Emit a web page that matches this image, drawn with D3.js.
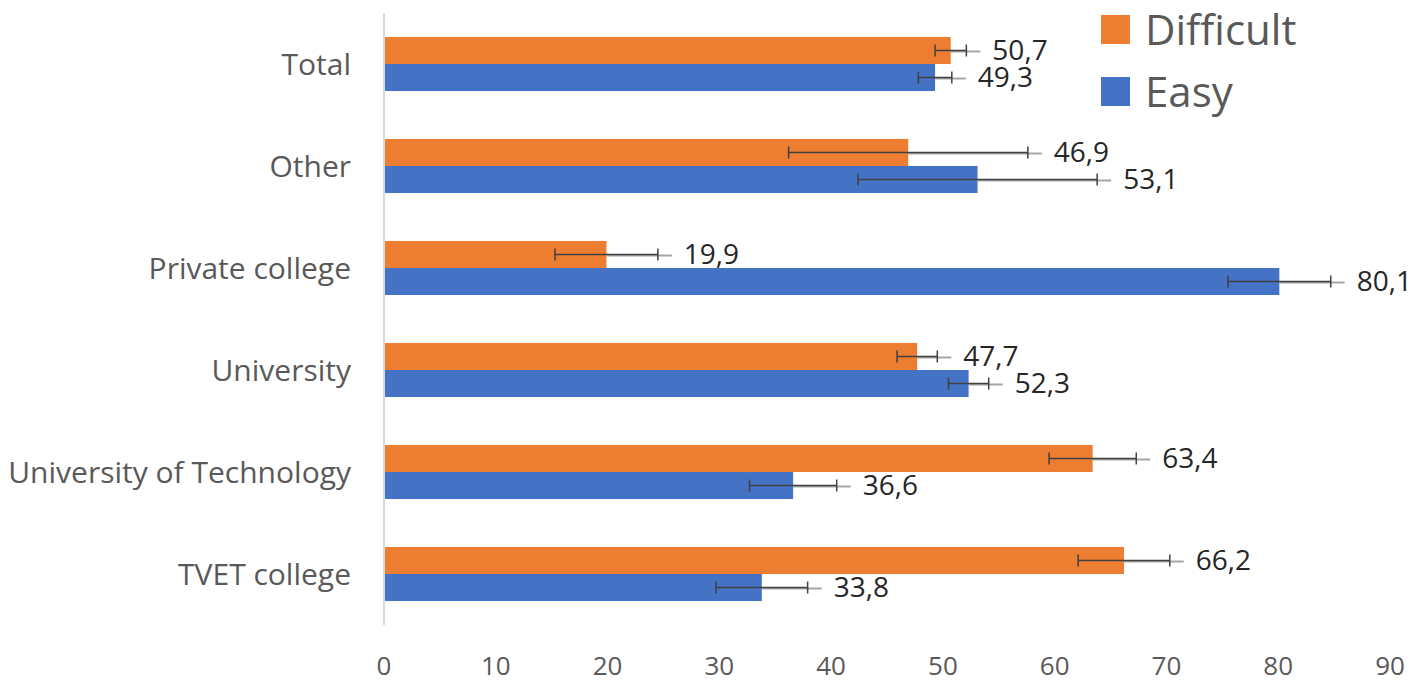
<!DOCTYPE html>
<html lang="en">
<head>
    <meta charset="UTF-8">
    <title>Difficult vs Easy by institution</title>
    <script src="https://d3js.org/d3.v7.min.js"></script>
    <style>
        body { margin: 0; background: #fff; }
        svg { display: block; font-family: "Open Sans", sans-serif; }
        .cat { font-size: 30px; fill: #595959; }
        .tick-label { font-size: 26px; fill: #595959; }
        .val { font-size: 28px; fill: #262626; }
        .legend text { font-size: 42px; fill: #595959; }
    </style>
</head>
<body>
<svg width="1417" height="690"></svg>
<script>
    // categories top to bottom
    const categories = ['Total', 'Other', 'Private college', 'University', 'University of Technology', 'TVET college'];
    const series = ['Difficult', 'Easy'];
    const difficult = [50.7, 46.9, 19.9, 47.7, 63.4, 66.2];
    const easy = [49.3, 53.1, 80.1, 52.3, 36.6, 33.8];
    // error bar half-widths
    const difficultErr = [1.4, 10.7, 4.6, 1.8, 3.9, 4.1];
    const easyErr = [1.5, 10.7, 4.6, 1.8, 3.9, 4.1];
    const xTicks = [0, 10, 20, 30, 40, 50, 60, 70, 80, 90];
    const colors = { Difficult: '#ED7D31', Easy: '#4472C4' };

    const svg = d3.select('svg');

    const x = d3.scaleLinear().domain([0, 90]).range([384, 1390]);
    const y = d3.scaleBand().domain(categories).range([13, 625])
        .paddingInner(0.47).paddingOuter(0.235);
    const ySub = d3.scaleBand().domain(series).range([0, y.bandwidth()]);

    const rows = [];
    categories.forEach((c, i) => {
        rows.push({ cat: c, s: 'Difficult', v: difficult[i], e: difficultErr[i] });
        rows.push({ cat: c, s: 'Easy', v: easy[i], e: easyErr[i] });
    });

    // axis line
    svg.append('line')
        .attr('x1', x(0)).attr('x2', x(0))
        .attr('y1', 13).attr('y2', 625)
        .attr('stroke', '#d9d9d9').attr('stroke-width', 2);

    // bars
    svg.append('g').selectAll('rect')
        .data(rows)
        .join('rect')
        .attr('x', x(0) + 1)
        .attr('y', d => y(d.cat) + ySub(d.s))
        .attr('width', d => x(d.v) - x(0) - 1)
        .attr('height', ySub.bandwidth())
        .attr('fill', d => colors[d.s]);

    // error bars
    const eb = svg.append('g').selectAll('g')
        .data(rows)
        .join('g')
        .attr('transform', d => `translate(0,${y(d.cat) + ySub(d.s) + ySub.bandwidth() / 2})`);

    eb.append('line')
        .attr('x1', d => x(d.v)).attr('x2', d => x(d.v + d.e) + 14)
        .attr('y1', 1).attr('y2', 1)
        .attr('stroke', '#a6a6a6').attr('stroke-width', 2);

    eb.append('line')
        .attr('x1', d => x(d.v - d.e)).attr('x2', d => x(d.v + d.e))
        .attr('stroke', '#404040').attr('stroke-width', 1.5);

    eb.append('line')
        .attr('x1', d => x(d.v - d.e)).attr('x2', d => x(d.v - d.e))
        .attr('y1', -6).attr('y2', 6)
        .attr('stroke', '#404040').attr('stroke-width', 1.5);

    eb.append('line')
        .attr('x1', d => x(d.v + d.e)).attr('x2', d => x(d.v + d.e))
        .attr('y1', -6).attr('y2', 6)
        .attr('stroke', '#404040').attr('stroke-width', 1.5);

    // value labels
    eb.append('text')
        .attr('class', 'val')
        .attr('x', d => x(d.v + d.e) + 26)
        .attr('dy', '0.35em')
        .text(d => d3.format('.1f')(d.v).replace('.', ','));

    // category labels
    svg.append('g').selectAll('text')
        .data(categories)
        .join('text')
        .attr('class', 'cat')
        .attr('x', 351)
        .attr('y', d => y(d) + y.bandwidth() / 2)
        .attr('dy', '0.35em')
        .attr('text-anchor', 'end')
        .text(d => d);

    // x tick labels
    svg.append('g').selectAll('text')
        .data(xTicks)
        .join('text')
        .attr('class', 'tick-label')
        .attr('x', d => x(d))
        .attr('y', 675)
        .attr('text-anchor', 'middle')
        .text(d => d);

    // legend
    const legend = svg.append('g').attr('class', 'legend')
        .selectAll('g')
        .data(series)
        .join('g')
        .attr('transform', (d, i) => `translate(1101,${15 + i * 62})`);

    legend.append('rect')
        .attr('width', 29).attr('height', 29)
        .attr('fill', d => colors[d]);

    legend.append('text')
        .attr('x', 44)
        .attr('y', 30)
        .text(d => d);
</script>
</body>
</html>
